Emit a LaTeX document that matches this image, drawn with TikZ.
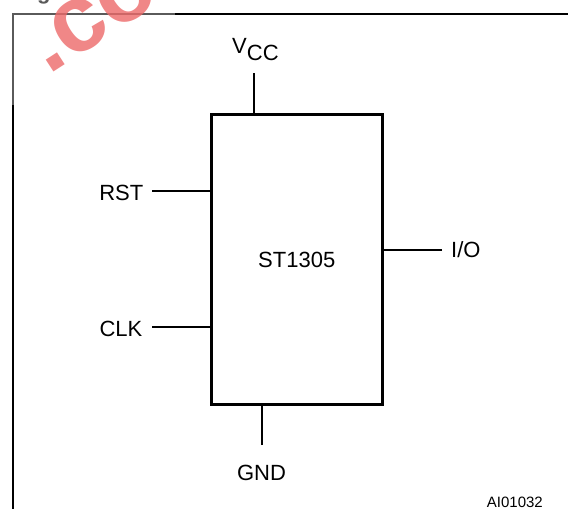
\documentclass[tikz,border=0pt]{standalone}
\usepackage{fontspec}
\setmainfont{Liberation Sans}
\definecolor{wmred}{RGB}{236,105,105}
\definecolor{framegray}{RGB}{90,90,90}
\begin{document}
\begin{tikzpicture}[x=1pt,y=-1pt,
  lbl/.style={inner sep=0pt, font=\fontsize{22}{26}\selectfont},
  small/.style={inner sep=0pt, font=\fontsize{15}{18}\selectfont},
  wire/.style={line width=2pt},
  chipbox/.style={draw, line width=3pt, inner sep=0pt, minimum width=170.5pt, minimum height=290pt},
  framel/.style={line width=2pt}
  ]
\useasboundingbox (0,0) rectangle (568,509);
% frame
\draw[framel] (175,14) -- (572,14);
\draw[framel] (13,105) -- (13,512);
\draw[framel,framegray] (13,105) -- (13,14) -- (175,14);
% caption fragment
\node[inner sep=0pt, anchor=base west, text=framegray, font=\fontsize{22}{26}\selectfont\bfseries] (capg) at (37,-1) {g};
% chip
\node[chipbox] (chip) at (296.75,259.5) {};
\node[lbl] (chipname) at (chip.center) {ST1305};
% free ends
\coordinate (vccend) at (254,73);
\coordinate (rstend) at (152,191);
\coordinate (clkend) at (152,327);
\coordinate (ioend) at (442,250);
\coordinate (gndend) at (262,445);
\draw[wire] (vccend) -- (vccend |- chip.north);
\draw[wire] (rstend) -- (rstend -| chip.west);
\draw[wire] (clkend) -- (clkend -| chip.west);
\draw[wire] (ioend) -- (ioend -| chip.east);
\draw[wire] (gndend) -- (gndend |- chip.south);
% labels
\node[lbl, anchor=base west] (vcc) at (232,53) {V\raisebox{-7.5pt}{CC}};
\node[lbl, anchor=base east] (rst) at (143.5,200) {RST};
\node[lbl, anchor=base east] (clk) at (142.5,336.5) {CLK};
\node[lbl, anchor=base west] (io) at (451,257) {I/O};
\node[lbl, anchor=base] (gnd) at (261.5,480) {GND};
\node[small, anchor=base east] (code) at (543,507) {AI01032};
% watermark
\node[inner sep=0pt, rotate=33, text=wmred, opacity=0.8, font=\fontsize{95}{95}\selectfont\bfseries] (wm) at (92,17) {.co};
\end{tikzpicture}
\end{document}
